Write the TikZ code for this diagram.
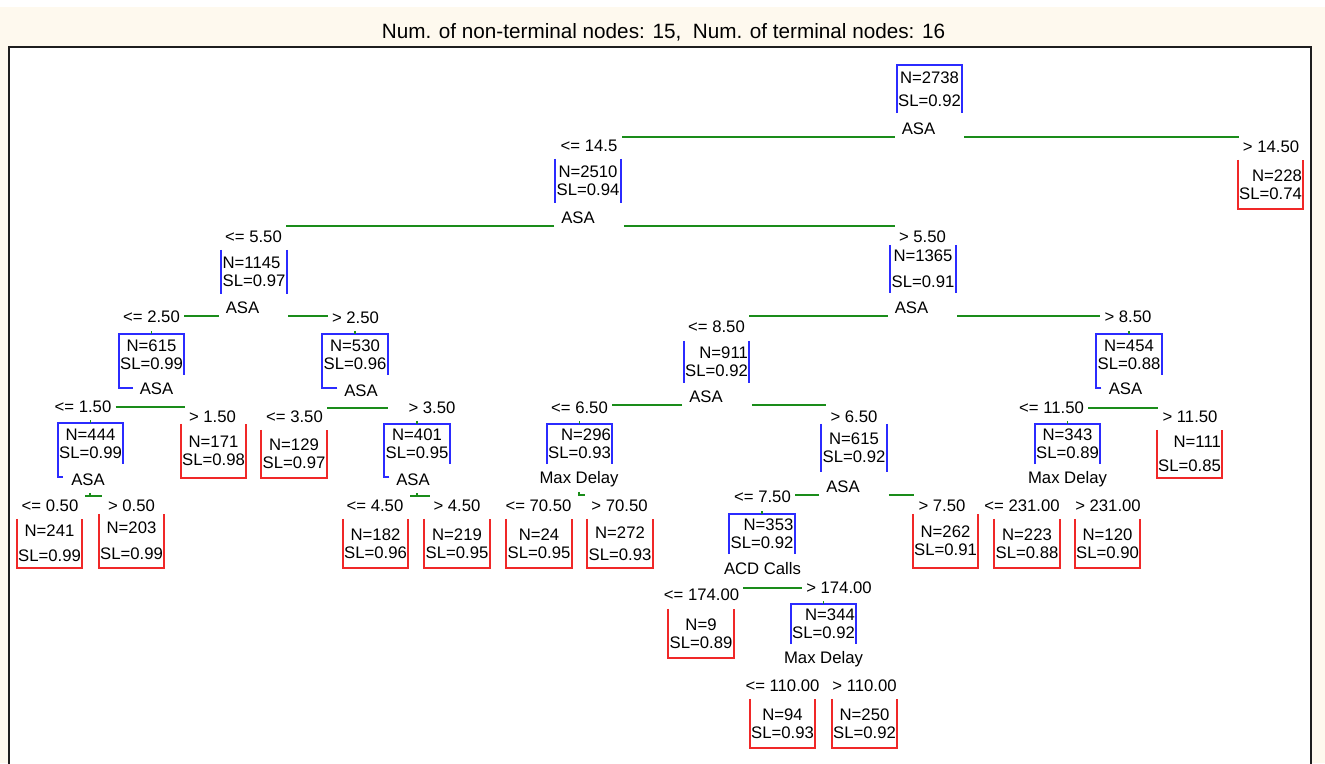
\documentclass[tikz,border=0pt]{standalone}
\usepackage{fontspec}
\setmainfont{Liberation Sans}
\usepackage{tikz}
\usepackage{xcolor}
\usetikzlibrary{positioning, calc}
\definecolor{TreeBlue}{HTML}{2B2BFF}
\definecolor{TreeRed}{HTML}{F02828}
\definecolor{TreeGreen}{HTML}{1A8C1A}
\definecolor{TreeCream}{HTML}{FEF9EE}
\definecolor{TreeFrame}{HTML}{1E1E1E}
\newcommand{\treefont}{\fontsize{16.7}{18}\selectfont}
\tikzset{
    stat/.style={
        font=\treefont,
        align=center,
        inner sep=0pt,
        minimum width=65pt
    },
    cond/.style={
        font=\treefont,
        inner xsep=4pt,
        inner ysep=1pt
    },
    attr/.style={
        font=\treefont,
        inner sep=0pt
    },
    splitline/.style={
        TreeGreen,
        line width=1.8pt
    },
    inbox/.style={
        TreeBlue,
        line width=1.8pt
    },
    outbox/.style={
        TreeRed,
        line width=1.8pt
    },
    heading/.style={
        font=\fontsize{20.7}{24}\selectfont,
        inner sep=0pt
    }
}

\begin{document}
\begin{tikzpicture}[x=1pt, y=-1pt]
        \useasboundingbox (0,0) rectangle (1325,763);
        % Panel
        \fill[white] (0,0) rectangle (1325,763);
        \fill[TreeCream] (0,7) rectangle (1325,763);
        \filldraw[fill=white, draw=TreeFrame, line width=1.6pt] (9,47) rectangle (1311,790);
        \node[heading, anchor=base] (title) at (663.5,38) {Num. of non-terminal nodes: 15,~ Num. of terminal nodes: 16};

        % Non-terminal nodes
        \node[stat, minimum height=48pt] (n2738) at (929.5,89) {N=2738\\[4.5pt]SL=0.92};
        \node[stat, minimum height=44pt] (n2510) at (588,181) {N=2510\\SL=0.94};
        \node[stat, minimum height=44pt, align=left] (n1145) at (254,272) {N=1145\\SL=0.97};
        \node[stat, minimum height=48pt] (n1365) at (923,269) {N=1365\\[8pt]SL=0.91};
        \node[stat, minimum height=41pt] (n615) at (151.5,354.5) {N=615\\SL=0.99};
        \node[stat, minimum height=41pt] (n530) at (355,354.5) {N=530\\SL=0.96};
        \node[stat, minimum height=42pt, align=right] (n911) at (716.5,362) {N=911\\SL=0.92};
        \node[stat, minimum height=41pt] (n454) at (1129,354.5) {N=454\\SL=0.88};
        \node[stat, minimum height=40pt] (n444) at (90.5,443.5) {N=444\\SL=0.99};
        \node[stat, minimum height=40pt] (n401) at (417,444) {N=401\\SL=0.95};
        \node[stat, minimum height=40pt, align=right] (n296) at (579.5,444) {N=296\\SL=0.93};
        \node[stat, minimum height=48pt] (n615b) at (854,448) {N=615\\SL=0.92};
        \node[stat, minimum height=40pt] (n343) at (1067.5,444) {N=343\\SL=0.89};
        \node[stat, minimum height=40pt, align=right] (n353) at (762,534) {N=353\\SL=0.92};
        \node[stat, minimum height=40pt, align=right] (n344) at (823.5,624) {N=344\\SL=0.92};

        % Terminal nodes
        \node[stat, minimum height=49pt, align=right] (n228) at (1270.5,184.5) {N=228\\SL=0.74};
        \node[stat, minimum height=54pt] (n171) at (213.5,451) {N=171\\SL=0.98};
        \node[stat, minimum height=48pt] (n129) at (294,454) {N=129\\SL=0.97};
        \node[stat, minimum height=48pt, align=right] (n111) at (1189.5,454) {N=111\\[6pt]SL=0.85};
        \node[stat, minimum height=49pt] (n241) at (49.5,543.5) {N=241\\[7pt]SL=0.99};
        \node[stat, minimum height=54pt] (n203) at (131.5,541) {N=203\\[8pt]SL=0.99};
        \node[stat, minimum height=49pt] (n182) at (375.5,543.5) {N=182\\SL=0.96};
        \node[stat, minimum height=49pt] (n219) at (457,543.5) {N=219\\SL=0.95};
        \node[stat, minimum height=49pt] (n24) at (539,543.5) {N=24\\SL=0.95};
        \node[stat, minimum height=49pt] (n272) at (620,543.5) {N=272\\[4pt]SL=0.93};
        \node[stat, minimum height=54pt] (n262) at (945.5,541) {N=262\\SL=0.91};
        \node[stat, minimum height=49pt] (n223) at (1027,543.5) {N=223\\SL=0.88};
        \node[stat, minimum height=49pt] (n120) at (1107.5,543.5) {N=120\\SL=0.90};
        \node[stat, minimum height=49pt] (n9) at (701,633.5) {N=9\\SL=0.89};
        \node[stat, minimum height=49pt] (n94) at (782.5,723.5) {N=94\\SL=0.93};
        \node[stat, minimum height=49pt] (n250) at (864.5,723.5) {N=250\\SL=0.92};

        % Box outlines
        \foreach \n in {n2738,n296,n343,n353,n344}
            \draw[inbox] (\n.south west) -- (\n.north west) -- (\n.north east) -- (\n.south east);
        \foreach \n in {n2510,n1145,n1365,n911,n615b} {
            \draw[inbox] (\n.north west) -- (\n.south west);
            \draw[inbox] (\n.north east) -- (\n.south east);
        }
        \foreach \n/\w in {n615/14,n530/15,n444/5,n401/5,n454/5}
            \draw[inbox] ([xshift=\w pt,yshift=-13pt]\n.south west) -- ([yshift=-13pt]\n.south west) -- (\n.north west) -- (\n.north east) -- (\n.south east);
        \foreach \n in {n228,n171,n129,n111,n241,n203,n182,n219,n24,n272,n262,n223,n120,n9,n94,n250}
            \draw[outbox] (\n.north west) -- (\n.south west) -- (\n.south east) -- (\n.north east);

        % Split variables
        \node[attr] (a2738) at (918.5,129) {ASA};
        \node[attr] (a2510) at (578,218) {ASA};
        \node[attr] (a1145) at (242.5,307.5) {ASA};
        \node[attr] (a1365) at (911.5,308) {ASA};
        \node[attr] (a615) at (156.5,389) {ASA};
        \node[attr] (a530) at (361,391) {ASA};
        \node[attr] (a911) at (706,397) {ASA};
        \node[attr] (a454) at (1125.5,389) {ASA};
        \node[attr] (a444) at (88,480) {ASA};
        \node[attr] (a401) at (413,480) {ASA};
        \node[attr] (a296) at (579,479) {Max Delay};
        \node[attr] (a615b) at (843,487) {ASA};
        \node[attr] (a343) at (1067.5,479) {Max Delay};
        \node[attr] (a353) at (762.5,569) {ACD Calls};
        \node[attr] (a344) at (823.5,659) {Max Delay};

        % Split conditions
        \node[cond] (lo2738) at (589,146) {<= 14.5};
        \node[cond] (hi2738) at (1271,147) {> 14.50};
        \node[cond] (lo2510) at (253.5,237) {<= 5.50};
        \node[cond] (hi2510) at (922.5,237) {> 5.50};
        \node[cond] (lo1145) at (151.5,317) {<= 2.50};
        \node[cond] (hi1145) at (355.5,318) {> 2.50};
        \node[cond] (lo1365) at (716.5,327) {<= 8.50};
        \node[cond] (hi1365) at (1128,317) {> 8.50};
        \node[cond] (lo615) at (83,407) {<= 1.50};
        \node[cond] (hi615) at (212.5,417) {> 1.50};
        \node[cond] (lo530) at (294.5,417) {<= 3.50};
        \node[cond] (hi530) at (432,408) {> 3.50};
        \node[cond] (lo911) at (579.5,408) {<= 6.50};
        \node[cond] (hi911) at (854,417) {> 6.50};
        \node[cond] (lo454) at (1051.5,408) {<= 11.50};
        \node[cond] (hi454) at (1190,417) {> 11.50};
        \node[cond] (lo444) at (50,506) {<= 0.50};
        \node[cond] (hi444) at (131.5,506) {> 0.50};
        \node[cond] (lo401) at (375,506) {<= 4.50};
        \node[cond] (hi401) at (457,506) {> 4.50};
        \node[cond] (lo296) at (538.5,506) {<= 70.50};
        \node[cond] (hi296) at (619.5,506) {> 70.50};
        \node[cond] (lo615b) at (762.5,497) {<= 7.50};
        \node[cond] (hi615b) at (942,506) {> 7.50};
        \node[cond] (lo343) at (1022,506) {<= 231.00};
        \node[cond] (hi343) at (1108,506) {> 231.00};
        \node[cond] (lo353) at (701.5,595) {<= 174.00};
        \node[cond] (hi353) at (839,588) {> 174.00};
        \node[cond] (lo344) at (782.5,686) {<= 110.00};
        \node[cond] (hi344) at (864.5,686) {> 110.00};

        % Split bars
        \foreach \s in {2738,2510,1145,1365,911,615b} {
            \draw[splitline] ([xshift=-7pt,yshift=-2pt]a\s.south west) coordinate (p) -- (p -| lo\s.east);
            \draw[splitline] ([xshift=29pt,yshift=-2pt]a\s.south east) coordinate (q) -- (q -| hi\s.west);
        }
        \foreach \s in {615,454}
            \draw[splitline] (lo\s.east) -- (lo\s.east -| hi\s.west);
        \draw[splitline] (hi530.west -| lo530.east) -- (hi530.west -| a530.east) -- ++(10,0);
        \draw[splitline] (hi353.west -| lo353.east) -- (hi353.west);
        \draw[splitline] (a444.south) ++(-3,10) -- ++(17,0);
        \draw[splitline] (a444.south) ++(2,10) -- ++(0,-3);
        \draw[splitline] (a401.south) ++(-3,10) -- ++(20,0);
        \draw[splitline] (a401.south) ++(4,10) -- ++(0,-3);
        \draw[splitline] (a296.south) ++(0,5) -- ++(0,3) -- ++(6,0);
        \foreach \n in {n615,n530,n444,n401,n454,n296,n343,n353,n344}
            \draw[splitline] (\n.north) -- ++(0,-3);
    \end{tikzpicture}
\end{document}
